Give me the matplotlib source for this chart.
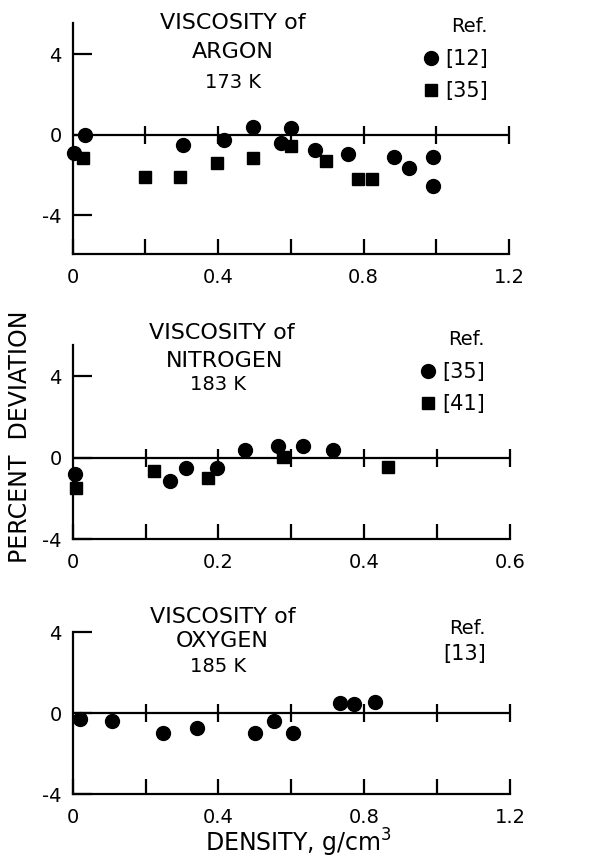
import matplotlib
matplotlib.use('Agg')
import matplotlib.pyplot as plt
import numpy as np

plt.rcParams['font.family'] = ['DejaVu Sans']

# ---------------- data ----------------
# Argon 173 K
ar_ref12_x = [0.004, 0.035, 0.302, 0.416, 0.495, 0.573, 0.601, 0.666, 0.758, 0.885, 0.924, 0.992, 0.992]
ar_ref12_y = [-0.9, 0.0, -0.53, -0.27, 0.4, -0.43, 0.32, -0.76, -0.96, -1.11, -1.63, -1.13, -2.56]
ar_ref35_x = [0.028, 0.198, 0.295, 0.398, 0.495, 0.600, 0.697, 0.786, 0.822]
ar_ref35_y = [-1.18, -2.09, -2.09, -1.39, -1.16, -0.55, -1.29, -2.2, -2.2]

# Nitrogen 183 K
n2_ref35_x = [0.003, 0.134, 0.155, 0.198, 0.236, 0.281, 0.316, 0.357]
n2_ref35_y = [-0.8, -1.12, -0.49, -0.5, 0.36, 0.6, 0.6, 0.37]
n2_ref41_x = [0.005, 0.112, 0.185, 0.289, 0.432]
n2_ref41_y = [-1.48, -0.67, -1.0, 0.02, -0.46]

# Oxygen 185 K
o2_ref13_x = [0.02, 0.108, 0.249, 0.341, 0.501, 0.553, 0.605, 0.733, 0.773, 0.83]
o2_ref13_y = [-0.28, -0.36, -0.98, -0.74, -0.98, -0.36, -0.98, 0.52, 0.48, 0.54]

titles = [("VISCOSITY of", "ARGON", "173 K"),
          ("VISCOSITY of", "NITROGEN", "183 K"),
          ("VISCOSITY of", "OXYGEN", "185 K")]
xticks_wide = [0, 0.2, 0.4, 0.6, 0.8, 1.0, 1.2]
xlabels_wide = ["0", "", "0.4", "", "0.8", "", "1.2"]
xticks_narrow = [0, 0.1, 0.2, 0.3, 0.4, 0.5, 0.6]
xlabels_narrow = ["0", "", "0.2", "", "0.4", "", "0.6"]
yticks = [-4, 0, 4]
ylabels = ["-4", "0", "4"]

W, H = 589, 861
fig = plt.figure(figsize=(W / 100, H / 100), dpi=100)


def ax_at(left, right, top, bottom):
    return fig.add_axes([left / W, 1 - bottom / H, (right - left) / W, (bottom - top) / H])


def style(ax, xt, xl, xmax, ylim):
    ax.set_xlim(0, xmax)
    ax.set_ylim(*ylim)
    for s in ['top', 'right']:
        ax.spines[s].set_visible(False)
    for s in ['left', 'bottom']:
        ax.spines[s].set_linewidth(1.6)
    ax.axhline(0, color='black', lw=1.6, zorder=1)
    ax.plot(xt[1:], [0] * (len(xt) - 1), ls='none', marker='|', ms=13, mew=1.6,
            color='black', clip_on=False, zorder=1)
    ax.set_xticks(xt)
    ax.set_xticklabels(xl)
    ax.set_yticks(yticks)
    ax.set_yticklabels(ylabels)
    ax.tick_params(axis='x', direction='in', length=11, width=1.6, labelsize=14, pad=10)
    ax.tick_params(axis='y', direction='in', length=14, width=1.6, labelsize=14, pad=8)


def ftext(px, py, s, size, **kw):
    fig.text(px / W, 1 - py / H, s, fontsize=size, ha='center', va='center', **kw)


leg_kw = dict(bbox_transform=fig.transFigure, frameon=False, fontsize=15,
              title_fontsize=14, handlelength=0.6, handletextpad=0.4,
              labelspacing=0.6, borderpad=0, alignment='right', loc='upper left')

# Panel 1 - Argon
ax1 = ax_at(72.7, 509, 22.7, 254)
style(ax1, xticks_wide, xlabels_wide, 1.2, (-5.93, 5.57))
ax1.plot(ar_ref12_x, ar_ref12_y, 'o', color='black', ms=10, ls='none', clip_on=False, zorder=3, label='[12]')
ax1.plot(ar_ref35_x, ar_ref35_y, 's', color='black', ms=9, ls='none', clip_on=False, zorder=3, label='[35]')
ax1.legend(title='Ref.', bbox_to_anchor=(414 / W, 1 - 7 / H), **leg_kw)

# Panel 2 - Nitrogen
ax2 = ax_at(72.7, 510, 345, 539.3)
style(ax2, xticks_narrow, xlabels_narrow, 0.6, (-4, 5.53))
ax2.plot(n2_ref35_x, n2_ref35_y, 'o', color='black', ms=10, ls='none', clip_on=False, zorder=3, label='[35]')
ax2.plot(n2_ref41_x, n2_ref41_y, 's', color='black', ms=9, ls='none', clip_on=False, zorder=3, label='[41]')
ax2.legend(title='Ref.', bbox_to_anchor=(411 / W, 1 - 320 / H), **leg_kw)

# Panel 3 - Oxygen
ax3 = ax_at(72.7, 510, 632.3, 794.3)
style(ax3, xticks_wide, xlabels_wide, 1.2, (-4, 4))
ax3.plot(o2_ref13_x, o2_ref13_y, 'o', color='black', ms=10, ls='none', clip_on=False, zorder=3)
ftext(467, 628, 'Ref.', 14)
ftext(465, 654, '[13]', 15)

# titles
title_pos = [((233, 23), (233, 52), (233, 82)),
             ((222, 333), (225, 361), (218, 384)),
             ((223, 617), (222, 641), (218, 667))]
for (t1, t2, t3), (p1, p2, p3) in zip(titles, title_pos):
    ftext(p1[0], p1[1], t1, 16)
    ftext(p2[0], p2[1], t2, 16)
    ftext(p3[0], p3[1], t3, 14)

# axis labels
ftext(20, 437, 'PERCENT  DEVIATION', 17, rotation=90)
ftext(298, 843, 'DENSITY, g/cm$^3$', 17)

fig.savefig('out.png', dpi=100)
